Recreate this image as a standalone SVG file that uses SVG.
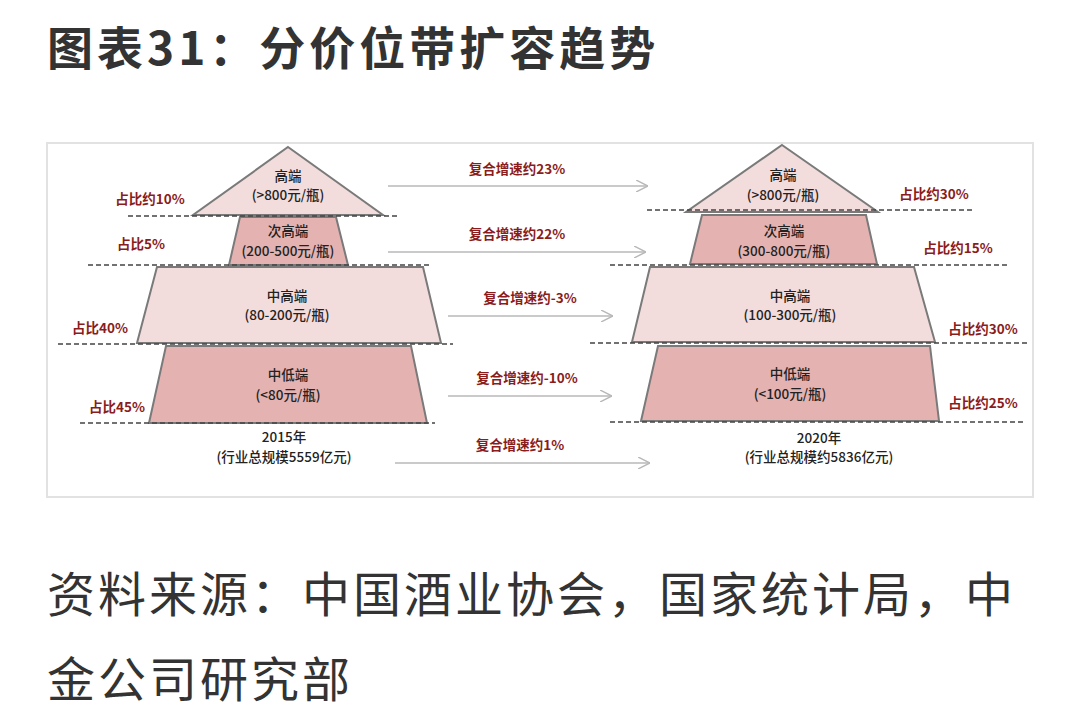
<svg xmlns="http://www.w3.org/2000/svg" width="1080" height="721" viewBox="0 0 1080 721">
<style>
text{font-family:"Noto Sans CJK SC","Noto Sans",sans-serif}
.l{fill:#f3dcdc;stroke:#7a7a7a;stroke-width:2}
.d{fill:#e4b2b1;stroke:#7a7a7a;stroke-width:2}
.t{font-size:13.5px;fill:#222;text-anchor:middle;font-weight:500}
.p{font-size:13.5px;fill:#8b1c1c;font-weight:bold;text-anchor:middle}
.dash{stroke:#444;stroke-width:1.3;stroke-dasharray:5 3;fill:none}
.ar{stroke:#b8b8b8;stroke-width:1.3;fill:none;marker-end:url(#a)}
</style>
<defs><marker id="a" viewBox="0 0 10 10" refX="10" refY="5" markerWidth="12" markerHeight="12" markerUnits="userSpaceOnUse" orient="auto"><path d="M0 0L10 5L0 10" fill="none" stroke="#b8b8b8" stroke-width="1.2"/></marker></defs>
<rect width="1080" height="721" fill="#fff"/>
<text x="47" y="65" font-size="46" font-weight="bold" fill="#333" letter-spacing="4">图表31：分价位带扩容趋势</text>
<rect x="47" y="143" width="986" height="354" fill="#fff" stroke="#e2e2e2" stroke-width="2"/>
<g id="left-top"><polygon class="l" points="288,147 383,215 193,215"/><text class="t" x="288" y="181">高端</text><text class="t" x="288" y="200">(&gt;800元/瓶)</text></g>
<g id="left-sub"><polygon class="d" points="240,217 336,217 348,265 229,265"/><text class="t" x="288" y="236">次高端</text><text class="t" x="288" y="256">(200-500元/瓶)</text></g>
<g id="left-mh"><polygon class="l" points="157,267 423,267 441,343 137,343"/><text class="t" x="287" y="301">中高端</text><text class="t" x="287" y="320">(80-200元/瓶)</text></g>
<g id="left-ml"><polygon class="d" points="166,346 411,346 427,423 149,423"/><text class="t" x="288" y="380">中低端</text><text class="t" x="288" y="400">(&lt;80元/瓶)</text></g>
<g id="left-year"><text class="t" x="284" y="442">2015年</text><text class="t" x="284" y="462">(行业总规模5559亿元)</text></g>
<g id="right-top"><polygon class="l" points="782,145 878,212 686,212"/><text class="t" x="783" y="180">高端</text><text class="t" x="783" y="200">(&gt;800元/瓶)</text></g>
<g id="right-sub"><polygon class="d" points="702,215 866,215 877,264 690,264"/><text class="t" x="784" y="236">次高端</text><text class="t" x="784" y="256">(300-800元/瓶)</text></g>
<g id="right-mh"><polygon class="l" points="650,267 914,267 935,342 632,342"/><text class="t" x="790" y="301">中高端</text><text class="t" x="790" y="320">(100-300元/瓶)</text></g>
<g id="right-ml"><polygon class="d" points="658,346 930,346 939,421 641,421"/><text class="t" x="790" y="379">中低端</text><text class="t" x="790" y="399">(&lt;100元/瓶)</text></g>
<g id="right-year"><text class="t" x="819" y="443">2020年</text><text class="t" x="819" y="462">(行业总规模约5836亿元)</text></g>
<g id="shares">
<text class="p" x="150" y="204">占比约10%</text><text class="p" x="141" y="249">占比5%</text><text class="p" x="100" y="333">占比40%</text><text class="p" x="117" y="412">占比45%</text>
<text class="p" x="934" y="199">占比约30%</text><text class="p" x="958" y="253">占比约15%</text><text class="p" x="983" y="334">占比约30%</text><text class="p" x="983" y="408">占比约25%</text>
</g>
<g id="connectors">
<line class="dash" x1="128" y1="216" x2="400" y2="216"/><line class="dash" x1="88" y1="265" x2="430" y2="265"/><line class="dash" x1="58" y1="344" x2="453" y2="344"/><line class="dash" x1="80" y1="423" x2="435" y2="423"/>
<line class="dash" x1="647" y1="210" x2="972" y2="210"/><line class="dash" x1="610" y1="265" x2="1010" y2="265"/><line class="dash" x1="590" y1="343" x2="1030" y2="343"/><line class="dash" x1="610" y1="422" x2="1025" y2="422"/>
<line class="ar" x1="388" y1="186" x2="648" y2="186"/><line class="ar" x1="388" y1="252" x2="646" y2="252"/><line class="ar" x1="448" y1="316" x2="613" y2="316"/><line class="ar" x1="448" y1="396" x2="612" y2="396"/><line class="ar" x1="395" y1="463" x2="650" y2="463"/>
</g>
<g id="growth">
<text class="p" x="517" y="174">复合增速约23%</text><text class="p" x="517" y="239">复合增速约22%</text><text class="p" x="530" y="303">复合增速约-3%</text><text class="p" x="527" y="383">复合增速约-10%</text><text class="p" x="520" y="450">复合增速约1%</text>
</g>
<text x="47" y="612" font-size="48" fill="#333" letter-spacing="3">资料来源：中国酒业协会，国家统计局，中</text>
<text x="47" y="697" font-size="48" fill="#333" letter-spacing="3">金公司研究部</text>
</svg>
